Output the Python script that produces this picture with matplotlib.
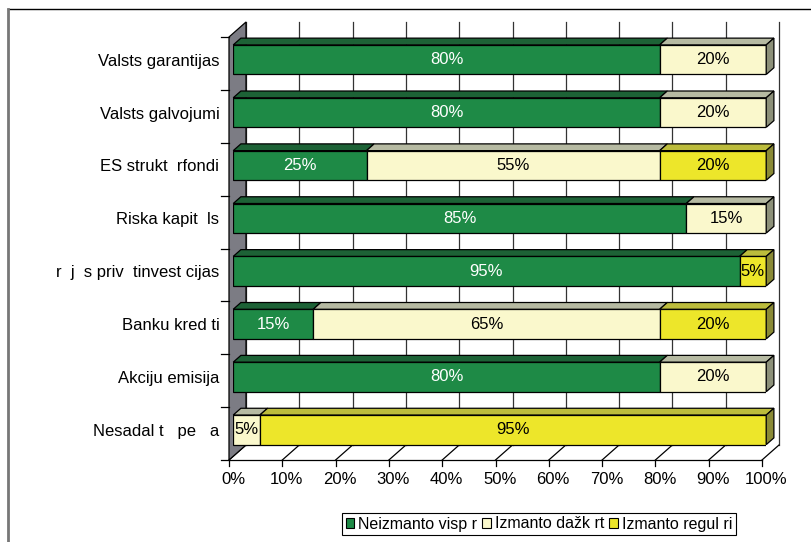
import matplotlib.pyplot as plt
from matplotlib.patches import Polygon, Patch
from matplotlib.lines import Line2D

categories = ["Valsts garantijas", "Valsts galvojumi", "ES strukt  rfondi", "Riska kapit  ls",
              "r  j  s priv  tinvest cijas", "Banku kred ti", "Akciju emisija", "Nesadal t   pe   a"]
never = [80, 80, 25, 85, 95, 15, 80, 0]
sometimes = [20, 20, 55, 15, 0, 65, 20, 5]
regular = [0, 0, 20, 0, 5, 20, 0, 95]
series_names = ["Neizmanto visp r", "Izmanto dažk rt", "Izmanto regul ri"]
xticks = list(range(0, 101, 10))

front_cols = ['#1e8a46', '#faf8cc', '#ede62a']
top_cols = ['#1d6236', '#b6baa2', '#bcbc3c']
side_cols = ['#17522c', '#8c9079', '#8a8a36']
text_cols = ['white', 'black', 'black']

plt.rcParams['font.family'] = ['Liberation Sans', 'DejaVu Sans']
FS = 12

W, H = 811, 542
fig = plt.figure(figsize=(W / 100, H / 100), dpi=100)
ax = fig.add_axes([233.25 / W, 1 - 456.25 / H, 533 / W, 423 / H])
ax.set_xlim(0, 100)
ax.set_ylim(7.5, -0.5)
ax.patch.set_visible(False)
for s in ax.spines.values():
    s.set_visible(False)

# 3d depth, pixels -> data units
px_x = 533 / 100
px_y = 423 / 8
Dx, Dy = 17 / px_x, -15 / px_y


def front(x, y):
    return (x - 0.25 * Dx, y - 0.25 * Dy)


def back(x, y):
    return (x + 0.75 * Dx, y + 0.75 * Dy)


def seg(p, q, **kw):
    ax.plot([p[0], q[0]], [p[1], q[1]], clip_on=False, **kw)


# back wall gridlines and floor
for x in xticks:
    seg(back(x, -0.5), back(x, 7.5), color='#333333', lw=0.9, zorder=1)
    seg(front(x, 7.5), back(x, 7.5), color='black', lw=0.9, zorder=1)
    f = front(x, 7.5)
    seg(f, (f[0], f[1] + 6 / px_y), color='black', lw=0.9, zorder=1)
seg(front(0, 7.5), front(100, 7.5), color='black', lw=0.9, zorder=1)

# left wall
wall = Polygon([front(0, -0.5), front(0, 7.5), back(0, 7.5), back(0, -0.5)],
               closed=True, fc='#7c7c84', ec='black', lw=0.9, zorder=2, clip_on=False)
ax.add_patch(wall)
for k in range(9):
    f = front(0, k - 0.5)
    seg(f, (f[0] - 8 / px_x, f[1]), color='black', lw=0.9, zorder=2)

# bars
bh = 0.56
bDx, bDy = 0.45 * Dx, 0.45 * Dy
for i in range(len(categories)):
    vals = [never[i], sometimes[i], regular[i]]
    left = 0
    last = max(k for k in range(3) if vals[k] > 0)
    for k in range(3):
        v = vals[k]
        if v == 0:
            continue
        z = 3 + k
        ax.barh(i, v, left=left, height=bh, color=front_cols[k], edgecolor='black',
                lw=0.9, zorder=z)
        top = i - bh / 2
        ax.add_patch(Polygon([(left, top), (left + v, top), (left + v + bDx, top + bDy),
                              (left + bDx, top + bDy)], closed=True, fc=top_cols[k],
                             ec='black', lw=0.9, zorder=z, clip_on=False))
        if k == last:
            r = left + v
            ax.add_patch(Polygon([(r, top), (r, i + bh / 2), (r + bDx, i + bh / 2 + bDy),
                                  (r + bDx, top + bDy)], closed=True, fc=side_cols[k],
                                 ec='black', lw=0.9, zorder=z, clip_on=False))
        ax.text(left + v / 2, i, f'{v}%', ha='center', va='center', color=text_cols[k],
                fontsize=FS, zorder=10)
        left += v

ax.set_yticks(range(len(categories)))
ax.set_yticklabels(categories, fontsize=FS)
ax.set_xticks(xticks)
ax.set_xticklabels([f'{x}%' for x in xticks], fontsize=FS)
ax.tick_params(axis='y', length=0, pad=10)
ax.tick_params(axis='x', length=0, pad=11.5)

handles = [Patch(fc=front_cols[k], ec='black', lw=0.8) for k in range(3)]
leg = fig.legend(handles, series_names, loc='center', bbox_to_anchor=(539 / W, 1 - 524 / H),
                 ncol=3, frameon=True, fontsize=11.5, handlelength=0.55, handleheight=0.55,
                 handletextpad=0.25, columnspacing=0.3, borderpad=0.2, fancybox=False,
                 edgecolor='black', framealpha=1)
leg.get_frame().set_linewidth(0.8)

# chart area frame
fig.add_artist(Line2D([8 / W, 1], [1 - 9 / H, 1 - 9 / H], transform=fig.transFigure,
                      color='black', lw=1))
fig.add_artist(Line2D([8 / W, 8 / W], [0, 1 - 9 / H], transform=fig.transFigure,
                      color='#777777', lw=2))

fig.savefig('out.png', dpi=100)
